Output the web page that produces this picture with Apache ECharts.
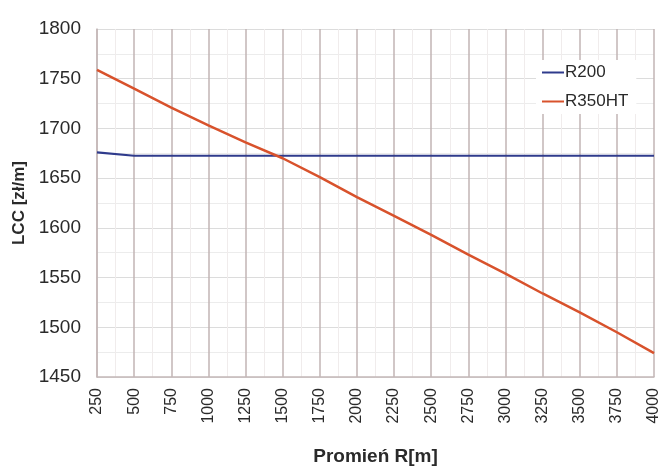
<!DOCTYPE html>
<html>
<head>
<meta charset="utf-8">
<script src="https://cdn.jsdelivr.net/npm/echarts@6/dist/echarts.min.js"></script>
<style>html,body{margin:0;padding:0;background:#fff;}#c{width:662px;height:471px;}</style>
</head>
<body>
<div id="c"></div>
<script>
var radii = [250, 500, 750, 1000, 1250, 1500, 1750, 2000, 2250, 2500, 2750, 3000, 3250, 3500, 3750, 4000];
var r200 = [1676, 1672.5, 1672.5, 1672.5, 1672.5, 1672.5, 1672.5, 1672.5, 1672.5, 1672.5, 1672.5, 1672.5, 1672.5, 1672.5, 1672.5, 1672.5];
var r350ht = [1759, 1740, 1721, 1703, 1686, 1670, 1651, 1631, 1612, 1593, 1573, 1554, 1534, 1515, 1495, 1474];
var seriesNames = ['R200', 'R350HT'];

function pairs(xs, ys) { return xs.map(function (x, i) { return [x, ys[i]]; }); }
function plain(v) { return String(v); }

var chart = echarts.init(document.getElementById('c'), null, { renderer: 'canvas' });
chart.setOption({
  backgroundColor: '#ffffff',
  animation: false,
  grid: { left: 97, right: 4, top: 29, bottom: 90 },
  legend: {
    orient: 'vertical',
    left: 536,
    top: 60,
    padding: [4, 8, 4, 6],
    backgroundColor: '#ffffff',
    itemWidth: 22,
    itemHeight: 2,
    itemGap: 12,
    icon: 'rect',
    textStyle: { fontFamily: 'Liberation Sans', fontSize: 17, color: '#2a2a2a', padding: [0, 0, 0, -4] },
    data: seriesNames
  },
  xAxis: {
    type: 'value',
    min: 250, max: 4000, interval: 250,
    name: 'Promień R[m]',
    nameLocation: 'middle',
    nameGap: 70,
    nameTextStyle: { fontFamily: 'Liberation Sans', fontSize: 19, fontWeight: 'bold', color: '#2a2a2a' },
    axisLine: { show: true, lineStyle: { color: '#c4b8b8', width: 1.5 } },
    axisTick: { show: false },
    axisLabel: { rotate: 90, margin: 11, fontFamily: 'Liberation Sans', fontSize: 16, color: '#2a2a2a', formatter: plain },
    splitLine: { show: true, lineStyle: { color: '#c2b4b4', width: 1.5 } },
    minorTick: { show: false, splitNumber: 2 },
    minorSplitLine: { show: true, lineStyle: { color: '#f0ecec', width: 1 } }
  },
  yAxis: {
    type: 'value',
    min: 1450, max: 1800, interval: 50,
    name: 'LCC [zł/m]',
    nameLocation: 'middle',
    nameGap: 68,
    nameTextStyle: { fontFamily: 'Liberation Sans', fontSize: 17, fontWeight: 'bold', color: '#2a2a2a' },
    axisLine: { show: true, lineStyle: { color: '#c4b8b8', width: 1.5 } },
    axisTick: { show: false },
    axisLabel: { margin: 16, fontFamily: 'Liberation Sans', fontSize: 19, color: '#2a2a2a', formatter: plain },
    splitLine: { show: true, lineStyle: { color: '#dcdcdc', width: 1 } },
    minorTick: { show: false, splitNumber: 2 },
    minorSplitLine: { show: true, lineStyle: { color: '#ececec', width: 1 } }
  },
  series: [
    {
      name: seriesNames[0], type: 'line', showSymbol: false, symbol: 'none',
      data: pairs(radii, r200),
      lineStyle: { color: '#2f3b8c', width: 2.2 }, itemStyle: { color: '#2f3b8c' }, z: 3
    },
    {
      name: seriesNames[1], type: 'line', showSymbol: false, symbol: 'none',
      data: pairs(radii, r350ht),
      lineStyle: { color: '#d8522c', width: 2.5 }, itemStyle: { color: '#d8522c' }, z: 4
    }
  ]
});
</script>
</body>
</html>
